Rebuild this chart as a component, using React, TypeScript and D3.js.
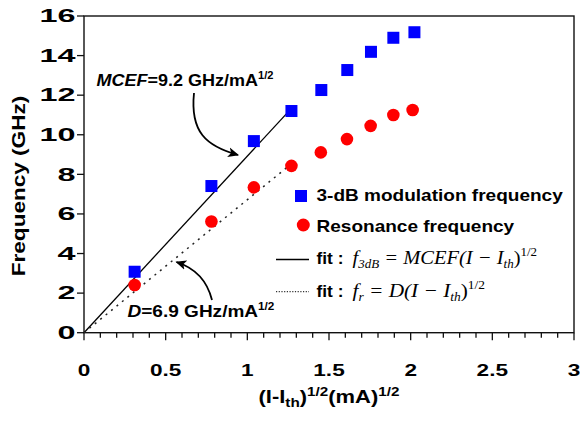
import React from "react";
import * as d3 from "d3";

const xSqrt3dB = [0.31, 0.78, 1.04, 1.27, 1.453, 1.612, 1.757, 1.894, 2.023];
const f3dB = [3.08, 7.41, 9.68, 11.2, 12.26, 13.27, 14.19, 14.9, 15.18];
const xSqrtRes = [0.31, 0.78, 1.04, 1.27, 1.45, 1.61, 1.755, 1.894, 2.012];
const fRes = [2.41, 5.62, 7.34, 8.43, 9.11, 9.78, 10.45, 11.0, 11.25];
const fitX = [0, 1.28];
const fit3dB = [0, 11.42];
const fitRes = [0, 8.6];
const xTicks = [0, 0.5, 1, 1.5, 2, 2.5, 3];
const yTicks = [0, 2, 4, 6, 8, 10, 12, 14, 16];

const W = 580, H = 421;
const L = 84, R = 574, T = 16, B = 332.7;
const SANS = "'Liberation Sans', Arial, sans-serif";
const SERIF = "'Liberation Serif', 'Times New Roman', serif";

function S({ x, y, sx, children, rot }: { x: number; y: number; sx: number; rot?: number; children: React.ReactNode }) {
  return <g transform={`translate(${x},${y})${rot ? ` rotate(${rot})` : ""} scale(${sx},1)`}>{children}</g>;
}

export default function App() {
  const x = d3.scaleLinear().domain([0, 3]).range([L, R]);
  const y = d3.scaleLinear().domain([0, 16]).range([B, T]);
  const minor = d3.range(0, 30.01, 1).map((v) => v / 10);
  const line = d3.line<number>().x((_, i) => x(fitX[i])).y((d) => y(d));

  return (
    <svg width={W} height={H} style={{ display: "block", position: "absolute", left: 0, top: 0 }}>
      <defs>
        <marker id="ah" viewBox="0 0 10 10" refX="9" refY="5" markerWidth="11" markerHeight="11" orient="auto" markerUnits="userSpaceOnUse">
          <path d="M0,0.5 L10,5 L0,9.5 L2.5,5 Z" fill="#000" />
        </marker>
      </defs>
      <rect width={W} height={H} fill="#fff" />
      {/* frame */}
      <rect x={L} y={T} width={R - L} height={B - T} fill="none" stroke="#111" strokeWidth={1.4} />
      {/* x ticks */}
      {minor.map((v, i) => (
        <line key={"mx" + i} x1={x(v)} x2={x(v)} y1={B} y2={B + (i % 5 === 0 ? 7.5 : 5)} stroke="#111" strokeWidth={1.3} />
      ))}
      {xTicks.map((v) => (
        <S key={"xt" + v} x={x(v)} y={376} sx={1.33}>
          <text textAnchor="middle" fontFamily={SANS} fontWeight="bold" fontSize={17}>
            {String(v)}
          </text>
        </S>
      ))}
      {yTicks.map((v) => (
        <g key={"yt" + v}>
          <line x1={L - 7} x2={L} y1={y(v)} y2={y(v)} stroke="#111" strokeWidth={1.3} />
          <S x={75.5} y={y(v) + 6.3} sx={1.85}>
            <text textAnchor="end" fontFamily={SANS} fontWeight="bold" fontSize={17.5}>
              {String(v)}
            </text>
          </S>
        </g>
      ))}
      {/* axis titles */}
      <S x={25} y={186} sx={1.22} rot={-90}>
        <text textAnchor="middle" fontFamily={SANS} fontWeight="bold" fontSize={18.5}>
          Frequency (GHz)
        </text>
      </S>
      <S x={329} y={403} sx={1.22}>
        <text textAnchor="middle" fontFamily={SANS} fontWeight="bold" fontSize={18}>
          (I-I<tspan fontSize={12.5} dy={4}>th</tspan>
          <tspan dy={-4}>)</tspan>
          <tspan fontSize={12.5} dy={-7.5}>1/2</tspan>
          <tspan dy={7.5}>(mA)</tspan>
          <tspan fontSize={12.5} dy={-7.5}>1/2</tspan>
        </text>
      </S>
      {/* fit lines */}
      <path d={line(fit3dB) || ""} stroke="#000" strokeWidth={1.3} fill="none" />
      <path d={line(fitRes) || ""} stroke="#222" strokeWidth={1.5} fill="none" strokeDasharray="2,5" />
      {/* data */}
      {fRes.map((v, i) => (
        <circle key={"c" + i} cx={x(xSqrtRes[i])} cy={y(v)} r={6.3} fill="#ff0000" />
      ))}
      {f3dB.map((v, i) => (
        <rect key={"s" + i} x={x(xSqrt3dB[i]) - 6} y={y(v) - 6} width={12} height={12} fill="#0000ff" />
      ))}
      {/* annotations */}
      <S x={96.5} y={86} sx={1.06}>
        <text fontFamily={SANS} fontWeight="bold" fontSize={17}>
          <tspan fontStyle="italic">MCEF</tspan>
          <tspan>{"=9.2 GHz/mA"}</tspan>
          <tspan fontSize={10.5} dy={-7}>1/2</tspan>
        </text>
      </S>
      <path d="M194,93 C190,132 206,146 238,155" fill="none" stroke="#000" strokeWidth={1.8} markerEnd="url(#ah)" />
      <S x={127.5} y={317} sx={1.12}>
        <text fontFamily={SANS} fontWeight="bold" fontSize={17}>
          <tspan fontStyle="italic">D</tspan>
          <tspan>{"=6.9 GHz/mA"}</tspan>
          <tspan fontSize={10.5} dy={-7}>1/2</tspan>
        </text>
      </S>
      <path d="M212,300 C207,280 195,268 176.5,262" fill="none" stroke="#000" strokeWidth={1.8} markerEnd="url(#ah)" />
      {/* legend */}
      <rect x={295} y={190} width={12} height={12} fill="#0000ff" />
      <S x={316.5} y={201} sx={1.12}>
        <text fontFamily={SANS} fontWeight="bold" fontSize={17}>3-dB modulation frequency</text>
      </S>
      <circle cx={303.3} cy={225} r={6.5} fill="#ff0000" />
      <S x={316.5} y={232} sx={1.12}>
        <text fontFamily={SANS} fontWeight="bold" fontSize={17}>Resonance frequency</text>
      </S>
      <line x1={276} x2={309} y1={259.5} y2={259.5} stroke="#000" strokeWidth={1.3} />
      <S x={316.5} y={264} sx={1.05}>
        <text fontFamily={SANS} fontWeight="bold" fontSize={16.5}>{"fit :"}</text>
      </S>
      <S x={352.5} y={264} sx={1.08}>
        <text fontFamily={SERIF} fontStyle="italic" fontSize={19}>
          f<tspan fontSize={12} dy={4}>3dB</tspan>
          <tspan dy={-4}>{" = MCEF(I \u2212 I"}</tspan>
          <tspan fontSize={12} dy={4}>th</tspan>
          <tspan dy={-4} fontStyle="normal">)</tspan>
          <tspan fontSize={12} dy={-8} fontStyle="normal">1/2</tspan>
        </text>
      </S>
      <line x1={276} x2={309} y1={291.7} y2={291.7} stroke="#333" strokeWidth={1.2} strokeDasharray="1.2,1.5" />
      <S x={316.5} y={297} sx={1.05}>
        <text fontFamily={SANS} fontWeight="bold" fontSize={16.5}>{"fit :"}</text>
      </S>
      <S x={352.5} y={297} sx={1.12}>
        <text fontFamily={SERIF} fontStyle="italic" fontSize={19}>
          f<tspan fontSize={12} dy={4}>r</tspan>
          <tspan dy={-4}>{" = D(I \u2212 I"}</tspan>
          <tspan fontSize={12} dy={4}>th</tspan>
          <tspan dy={-4} fontStyle="normal">)</tspan>
          <tspan fontSize={12} dy={-8} fontStyle="normal">1/2</tspan>
        </text>
      </S>
    </svg>
  );
}
